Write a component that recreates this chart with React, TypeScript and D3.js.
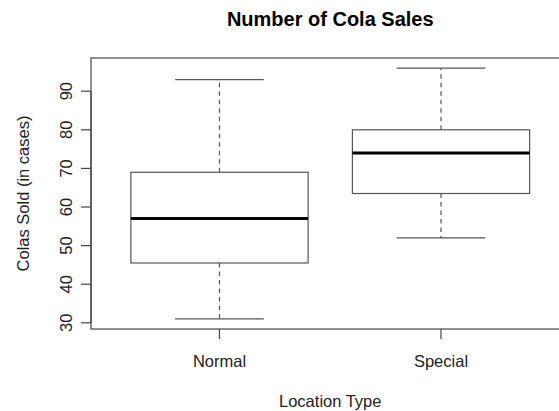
import React from "react";
import * as d3 from "d3";

const categories = ["Normal", "Special"];
const lowerWhisker = [31, 52];
const q1 = [45.5, 63.5];
const median = [57, 74];
const q3 = [69, 80];
const upperWhisker = [93, 96];
const yTicks = [30, 40, 50, 60, 70, 80, 90];

const W = 559;
const H = 411;

export default function App() {
  const x = d3.scaleLinear().domain([0.42, 2.58]).range([91, 569.5]);
  const y = d3.scaleLinear().domain([28.4, 98.6]).range([329, 58]);
  const boxHalf = 0.4;
  const capHalf = 0.2;
  const font = "'Liberation Sans', Arial, Helvetica, sans-serif";
  const left = x(0.42);
  const right = x(2.58);
  const top = y(98.6);
  const bottom = y(28.4);
  return (
    <svg
      width={W}
      height={H}
      style={{ position: "absolute", left: 0, top: 0, background: "#fff" }}
      fontFamily={font}
    >
      <rect x={0} y={0} width={W} height={H} fill="#fff" />
      <text x={(left + right) / 2} y={26} textAnchor="middle" fontSize={20} fontWeight="bold" fill="#000">
        Number of Cola Sales
      </text>
      {/* boxes */}
      {categories.map((c, i) => {
        const cx = x(i + 1);
        return (
          <g key={c}>
            <line x1={cx} x2={cx} y1={y(q3[i])} y2={y(upperWhisker[i])} stroke="#555" strokeWidth={1.2} strokeDasharray="4.5,4" />
            <line x1={cx} x2={cx} y1={y(q1[i])} y2={y(lowerWhisker[i])} stroke="#555" strokeWidth={1.2} strokeDasharray="4.5,4" />
            <line x1={x(i + 1 - capHalf)} x2={x(i + 1 + capHalf)} y1={y(upperWhisker[i])} y2={y(upperWhisker[i])} stroke="#555" strokeWidth={1.2} />
            <line x1={x(i + 1 - capHalf)} x2={x(i + 1 + capHalf)} y1={y(lowerWhisker[i])} y2={y(lowerWhisker[i])} stroke="#555" strokeWidth={1.2} />
            <rect
              x={x(i + 1 - boxHalf)}
              y={y(q3[i])}
              width={x(i + 1 + boxHalf) - x(i + 1 - boxHalf)}
              height={y(q1[i]) - y(q3[i])}
              fill="none"
              stroke="#555"
              strokeWidth={1.2}
            />
            <line x1={x(i + 1 - boxHalf)} x2={x(i + 1 + boxHalf)} y1={y(median[i])} y2={y(median[i])} stroke="#000" strokeWidth={3} />
          </g>
        );
      })}
      {/* frame */}
      <rect x={left} y={top} width={right - left} height={bottom - top} fill="none" stroke="#444" strokeWidth={1.2} />
      {/* y axis */}
      <line x1={left} x2={left} y1={y(30)} y2={y(90)} stroke="#444" strokeWidth={1.2} />
      {yTicks.map((t) => (
        <g key={t}>
          <line x1={left - 10} x2={left} y1={y(t)} y2={y(t)} stroke="#444" strokeWidth={1.2} />
          <text
            transform={`translate(${71.5},${y(t)}) rotate(-90)`}
            textAnchor="middle"
            fontSize={16.5}
            fill="#222"
          >
            {t}
          </text>
        </g>
      ))}
      {/* x axis */}
      {categories.map((c, i) => (
        <g key={c}>
          <line x1={x(i + 1)} x2={x(i + 1)} y1={bottom} y2={bottom + 10} stroke="#444" strokeWidth={1.2} />
          <text x={x(i + 1)} y={367} textAnchor="middle" fontSize={16.5} fill="#222">
            {c}
          </text>
        </g>
      ))}
      <text x={(left + right) / 2} y={406.5} textAnchor="middle" fontSize={16.5} fill="#222">
        Location Type
      </text>
      <text
        transform={`translate(${29},${(top + bottom) / 2}) rotate(-90)`}
        textAnchor="middle"
        fontSize={16.5}
        fill="#222"
      >
        Colas Sold (in cases)
      </text>
    </svg>
  );
}
